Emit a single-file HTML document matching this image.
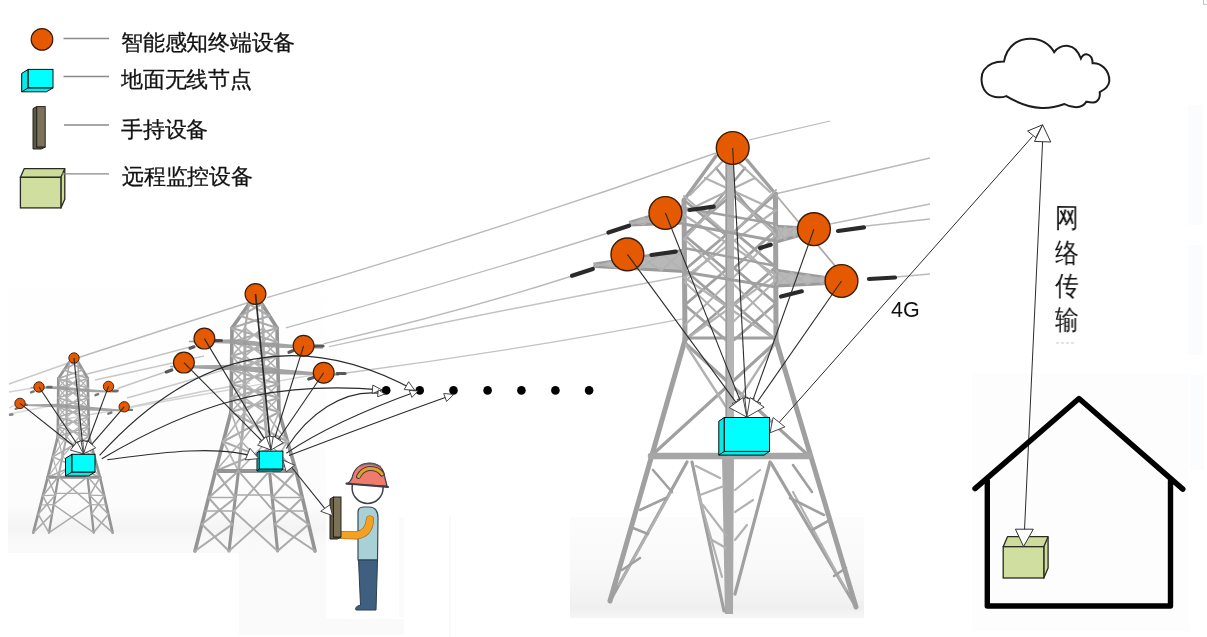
<!DOCTYPE html>
<html><head><meta charset="utf-8"><style>
html,body{margin:0;padding:0;background:#fff;width:1207px;height:637px;overflow:hidden}
body{position:relative;font-family:"Liberation Sans",sans-serif;color:#111}
.t{position:absolute;white-space:nowrap;line-height:1;will-change:transform}
.lg{font-size:22px;letter-spacing:-0.25px;-webkit-text-stroke:0.3px #1a1a1a}
.v{font-size:25px;width:26px;line-height:30.65px;text-align:center;transform:scale(0.97,1.1);transform-origin:0 0}
</style></head><body>
<svg width="1207" height="637" viewBox="0 0 1207 637" style="position:absolute;left:0;top:0"><defs><linearGradient id="g1" x1="0" y1="250" x2="0" y2="553" gradientUnits="userSpaceOnUse"><stop offset="0" stop-color="#fff"/><stop offset="0.84" stop-color="#fcfcfc"/><stop offset="0.92" stop-color="#f4f4f4"/><stop offset="0.96" stop-color="#f9f9f9"/><stop offset="1" stop-color="#fafafa"/></linearGradient><linearGradient id="g3" x1="0" y1="517" x2="0" y2="618" gradientUnits="userSpaceOnUse"><stop offset="0" stop-color="#fcfcfc"/><stop offset="0.5" stop-color="#f9f9f9"/><stop offset="0.82" stop-color="#f2f2f2"/><stop offset="0.9" stop-color="#efefef"/><stop offset="1" stop-color="#f6f6f6"/></linearGradient><filter id="bl" x="-5%" y="-5%" width="110%" height="110%"><feGaussianBlur stdDeviation="0.5"/></filter><filter id="bl2" x="-5%" y="-5%" width="110%" height="110%"><feGaussianBlur stdDeviation="0.6"/></filter></defs><rect x="8" y="250" width="318" height="303" fill="url(#g1)"/><rect x="239" y="553" width="165" height="82" fill="#fafafa"/><rect x="326" y="458" width="78" height="161" fill="#ffffff"/><rect x="570" y="517" width="294" height="101" fill="url(#g3)"/><rect x="399" y="517" width="5" height="100" fill="#fbfbfb"/><rect x="449" y="517" width="1.5" height="120" fill="#f8f8f8"/><rect x="972" y="373" width="217" height="258" fill="#fdfdfd"/><path d="M1203.5,0 L1203.5,4.4 L1207,4.4" fill="none" stroke="#bdbdbd" stroke-width="0.9"/><rect x="1188" y="105" width="15" height="120" fill="#fafcfd"/><rect x="1188" y="245" width="15" height="110" fill="#fbfcfd"/><rect x="1190" y="375" width="14" height="95" fill="#fbfcfd"/><g fill="#e4e4e4"><rect x="1056" y="342" width="3" height="2"/><rect x="1061" y="342" width="3" height="2"/><rect x="1066" y="342" width="3" height="2"/><rect x="1071" y="342" width="3" height="2"/></g><g><path d="M9.0,384.0 L74.0,361.0" fill="none" stroke="#cacaca" stroke-width="1.35"/><path d="M9.0,392.0 L39.0,387.0" fill="none" stroke="#d4d4d4" stroke-width="1.35"/><path d="M9.0,408.0 L20.0,403.0" fill="none" stroke="#d4d4d4" stroke-width="1.35"/><path d="M9.0,414.0 L60.0,404.0" fill="none" stroke="#dadada" stroke-width="1.35"/><path d="M74.0,359.0 L160.0,331.0 L250.0,302.0" fill="none" stroke="#bababa" stroke-width="1.35"/><path d="M60.0,381.0 L130.0,363.0 L190.0,347.0" fill="none" stroke="#c4c4c4" stroke-width="1.35"/><path d="M95.0,380.0 L150.0,368.0 L204.0,356.0" fill="none" stroke="#c8c8c8" stroke-width="1.35"/><path d="M117.7,388.5 L166.6,371.5" fill="none" stroke="#c4c4c4" stroke-width="1.35"/><path d="M127.0,398.0 L180.0,383.0 L230.6,367.8" fill="none" stroke="#c8c8c8" stroke-width="1.35"/><path d="M130.0,407.0 L200.0,392.0 L250.0,383.0" fill="none" stroke="#cccccc" stroke-width="1.35"/><path d="M60.0,420.0 L200.0,395.0 L324.0,373.0" fill="none" stroke="#d2d2d2" stroke-width="1.35"/><path d="M267,297.7 Q490,233 716,153" fill="none" stroke="#bababa" stroke-width="1.35"/><path d="M285.8,327.8 Q460,280 608,233" fill="none" stroke="#bababa" stroke-width="1.35"/><path d="M323.4,343.8 Q460,312 572,276" fill="none" stroke="#bababa" stroke-width="1.35"/><path d="M329,346.6 Q500,310 684,276" fill="none" stroke="#c2c2c2" stroke-width="1.35"/><path d="M346,373 Q520,350 684,318.6" fill="none" stroke="#c2c2c2" stroke-width="1.35"/><path d="M749.0,140.0 L830.0,121.0" fill="none" stroke="#bababa" stroke-width="1.2"/><path d="M775.0,194.0 L930.0,158.0" fill="none" stroke="#bababa" stroke-width="1.35"/><path d="M830.0,224.0 L930.0,204.0" fill="none" stroke="#bababa" stroke-width="1.35"/><path d="M866.0,226.0 L930.0,219.0" fill="none" stroke="#bababa" stroke-width="1.35"/><path d="M896.0,277.0 L930.0,274.0" fill="none" stroke="#bababa" stroke-width="1.35"/></g><g><line x1="69.5" y1="361.8" x2="58.4" y2="378.4" stroke="#949494" stroke-width="2.7" stroke-linecap="round"/><line x1="77.9" y1="361.8" x2="87.7" y2="378.4" stroke="#949494" stroke-width="2.7" stroke-linecap="round"/><line x1="69.5" y1="361.8" x2="66.9" y2="378.4" stroke="#ababab" stroke-width="1.5750000000000002" stroke-linecap="round"/><line x1="77.9" y1="361.8" x2="78.6" y2="378.4" stroke="#ababab" stroke-width="1.5750000000000002" stroke-linecap="round"/><line x1="69.5" y1="361.8" x2="77.9" y2="361.8" stroke="#ababab" stroke-width="1.5750000000000002" stroke-linecap="round"/><line x1="69.5" y1="361.8" x2="82.8" y2="370.1" stroke="#ababab" stroke-width="1.5750000000000002" stroke-linecap="round"/><line x1="77.9" y1="361.8" x2="63.9" y2="370.1" stroke="#ababab" stroke-width="1.5750000000000002" stroke-linecap="round"/><line x1="63.9" y1="370.1" x2="87.7" y2="378.4" stroke="#ababab" stroke-width="1.5750000000000002" stroke-linecap="round"/><line x1="82.8" y1="370.1" x2="58.4" y2="378.4" stroke="#ababab" stroke-width="1.5750000000000002" stroke-linecap="round"/><line x1="58.4" y1="378.4" x2="57.8" y2="436.5" stroke="#949494" stroke-width="2.7" stroke-linecap="round"/><line x1="57.8" y1="436.5" x2="47.7" y2="477.3" stroke="#949494" stroke-width="2.7" stroke-linecap="round"/><line x1="87.7" y1="378.4" x2="89.0" y2="436.5" stroke="#949494" stroke-width="2.7" stroke-linecap="round"/><line x1="89.0" y1="436.5" x2="100.0" y2="477.3" stroke="#949494" stroke-width="2.7" stroke-linecap="round"/><line x1="66.9" y1="378.4" x2="66.5" y2="436.5" stroke="#ababab" stroke-width="2.16" stroke-linecap="round"/><line x1="66.5" y1="436.5" x2="58.4" y2="476.6" stroke="#ababab" stroke-width="2.16" stroke-linecap="round"/><line x1="78.6" y1="378.4" x2="79.5" y2="436.5" stroke="#ababab" stroke-width="2.16" stroke-linecap="round"/><line x1="79.5" y1="436.5" x2="87.5" y2="476.6" stroke="#ababab" stroke-width="2.16" stroke-linecap="round"/><line x1="47.7" y1="477.3" x2="33.3" y2="532.6" stroke="#949494" stroke-width="2.7" stroke-linecap="round"/><line x1="100.0" y1="477.3" x2="112.6" y2="532.6" stroke="#949494" stroke-width="2.7" stroke-linecap="round"/><line x1="58.4" y1="476.6" x2="49.0" y2="532.6" stroke="#949494" stroke-width="2.295" stroke-linecap="round"/><line x1="87.5" y1="476.6" x2="93.7" y2="532.6" stroke="#949494" stroke-width="2.295" stroke-linecap="round"/><line x1="58.4" y1="378.4" x2="87.9" y2="388.1" stroke="#ababab" stroke-width="1.5750000000000002" stroke-linecap="round"/><line x1="87.7" y1="378.4" x2="58.3" y2="388.1" stroke="#ababab" stroke-width="1.5750000000000002" stroke-linecap="round"/><line x1="58.3" y1="388.1" x2="88.1" y2="397.8" stroke="#ababab" stroke-width="1.5750000000000002" stroke-linecap="round"/><line x1="87.9" y1="388.1" x2="58.2" y2="397.8" stroke="#ababab" stroke-width="1.5750000000000002" stroke-linecap="round"/><line x1="58.2" y1="397.8" x2="88.3" y2="407.4" stroke="#ababab" stroke-width="1.5750000000000002" stroke-linecap="round"/><line x1="88.1" y1="397.8" x2="58.1" y2="407.4" stroke="#ababab" stroke-width="1.5750000000000002" stroke-linecap="round"/><line x1="58.1" y1="407.4" x2="88.5" y2="417.1" stroke="#ababab" stroke-width="1.5750000000000002" stroke-linecap="round"/><line x1="88.3" y1="407.4" x2="58.0" y2="417.1" stroke="#ababab" stroke-width="1.5750000000000002" stroke-linecap="round"/><line x1="58.0" y1="417.1" x2="88.8" y2="426.8" stroke="#ababab" stroke-width="1.5750000000000002" stroke-linecap="round"/><line x1="88.5" y1="417.1" x2="57.9" y2="426.8" stroke="#ababab" stroke-width="1.5750000000000002" stroke-linecap="round"/><line x1="57.9" y1="426.8" x2="89.0" y2="436.5" stroke="#ababab" stroke-width="1.5750000000000002" stroke-linecap="round"/><line x1="88.8" y1="426.8" x2="57.8" y2="436.5" stroke="#ababab" stroke-width="1.5750000000000002" stroke-linecap="round"/><line x1="66.9" y1="378.4" x2="78.7" y2="388.1" stroke="#b4b4b4" stroke-width="1.2600000000000002" stroke-linecap="round"/><line x1="78.6" y1="378.4" x2="66.8" y2="388.1" stroke="#b4b4b4" stroke-width="1.2600000000000002" stroke-linecap="round"/><line x1="66.8" y1="388.1" x2="78.9" y2="397.8" stroke="#b4b4b4" stroke-width="1.2600000000000002" stroke-linecap="round"/><line x1="78.7" y1="388.1" x2="66.8" y2="397.8" stroke="#b4b4b4" stroke-width="1.2600000000000002" stroke-linecap="round"/><line x1="66.8" y1="397.8" x2="79.1" y2="407.4" stroke="#b4b4b4" stroke-width="1.2600000000000002" stroke-linecap="round"/><line x1="78.9" y1="397.8" x2="66.7" y2="407.4" stroke="#b4b4b4" stroke-width="1.2600000000000002" stroke-linecap="round"/><line x1="66.7" y1="407.4" x2="79.2" y2="417.1" stroke="#b4b4b4" stroke-width="1.2600000000000002" stroke-linecap="round"/><line x1="79.1" y1="407.4" x2="66.7" y2="417.1" stroke="#b4b4b4" stroke-width="1.2600000000000002" stroke-linecap="round"/><line x1="66.7" y1="417.1" x2="79.4" y2="426.8" stroke="#b4b4b4" stroke-width="1.2600000000000002" stroke-linecap="round"/><line x1="79.2" y1="417.1" x2="66.6" y2="426.8" stroke="#b4b4b4" stroke-width="1.2600000000000002" stroke-linecap="round"/><line x1="66.6" y1="426.8" x2="79.5" y2="436.5" stroke="#b4b4b4" stroke-width="1.2600000000000002" stroke-linecap="round"/><line x1="79.4" y1="426.8" x2="66.5" y2="436.5" stroke="#b4b4b4" stroke-width="1.2600000000000002" stroke-linecap="round"/><line x1="58.4" y1="378.4" x2="66.8" y2="388.1" stroke="#b0b0b0" stroke-width="1.2600000000000002" stroke-linecap="round"/><line x1="66.9" y1="378.4" x2="58.3" y2="388.1" stroke="#b0b0b0" stroke-width="1.2600000000000002" stroke-linecap="round"/><line x1="58.3" y1="388.1" x2="66.8" y2="397.8" stroke="#b0b0b0" stroke-width="1.2600000000000002" stroke-linecap="round"/><line x1="66.8" y1="388.1" x2="58.2" y2="397.8" stroke="#b0b0b0" stroke-width="1.2600000000000002" stroke-linecap="round"/><line x1="58.2" y1="397.8" x2="66.7" y2="407.4" stroke="#b0b0b0" stroke-width="1.2600000000000002" stroke-linecap="round"/><line x1="66.8" y1="397.8" x2="58.1" y2="407.4" stroke="#b0b0b0" stroke-width="1.2600000000000002" stroke-linecap="round"/><line x1="58.1" y1="407.4" x2="66.7" y2="417.1" stroke="#b0b0b0" stroke-width="1.2600000000000002" stroke-linecap="round"/><line x1="66.7" y1="407.4" x2="58.0" y2="417.1" stroke="#b0b0b0" stroke-width="1.2600000000000002" stroke-linecap="round"/><line x1="58.0" y1="417.1" x2="66.6" y2="426.8" stroke="#b0b0b0" stroke-width="1.2600000000000002" stroke-linecap="round"/><line x1="66.7" y1="417.1" x2="57.9" y2="426.8" stroke="#b0b0b0" stroke-width="1.2600000000000002" stroke-linecap="round"/><line x1="57.9" y1="426.8" x2="66.5" y2="436.5" stroke="#b0b0b0" stroke-width="1.2600000000000002" stroke-linecap="round"/><line x1="66.6" y1="426.8" x2="57.8" y2="436.5" stroke="#b0b0b0" stroke-width="1.2600000000000002" stroke-linecap="round"/><line x1="78.6" y1="378.4" x2="87.9" y2="388.1" stroke="#b0b0b0" stroke-width="1.2600000000000002" stroke-linecap="round"/><line x1="87.7" y1="378.4" x2="78.7" y2="388.1" stroke="#b0b0b0" stroke-width="1.2600000000000002" stroke-linecap="round"/><line x1="78.7" y1="388.1" x2="88.1" y2="397.8" stroke="#b0b0b0" stroke-width="1.2600000000000002" stroke-linecap="round"/><line x1="87.9" y1="388.1" x2="78.9" y2="397.8" stroke="#b0b0b0" stroke-width="1.2600000000000002" stroke-linecap="round"/><line x1="78.9" y1="397.8" x2="88.3" y2="407.4" stroke="#b0b0b0" stroke-width="1.2600000000000002" stroke-linecap="round"/><line x1="88.1" y1="397.8" x2="79.1" y2="407.4" stroke="#b0b0b0" stroke-width="1.2600000000000002" stroke-linecap="round"/><line x1="79.1" y1="407.4" x2="88.5" y2="417.1" stroke="#b0b0b0" stroke-width="1.2600000000000002" stroke-linecap="round"/><line x1="88.3" y1="407.4" x2="79.2" y2="417.1" stroke="#b0b0b0" stroke-width="1.2600000000000002" stroke-linecap="round"/><line x1="79.2" y1="417.1" x2="88.8" y2="426.8" stroke="#b0b0b0" stroke-width="1.2600000000000002" stroke-linecap="round"/><line x1="88.5" y1="417.1" x2="79.4" y2="426.8" stroke="#b0b0b0" stroke-width="1.2600000000000002" stroke-linecap="round"/><line x1="79.4" y1="426.8" x2="89.0" y2="436.5" stroke="#b0b0b0" stroke-width="1.2600000000000002" stroke-linecap="round"/><line x1="88.8" y1="426.8" x2="79.5" y2="436.5" stroke="#b0b0b0" stroke-width="1.2600000000000002" stroke-linecap="round"/><line x1="57.8" y1="436.5" x2="94.5" y2="456.9" stroke="#ababab" stroke-width="1.5750000000000002" stroke-linecap="round"/><line x1="89.0" y1="436.5" x2="52.7" y2="456.9" stroke="#ababab" stroke-width="1.5750000000000002" stroke-linecap="round"/><line x1="52.7" y1="456.9" x2="100.0" y2="477.3" stroke="#ababab" stroke-width="1.5750000000000002" stroke-linecap="round"/><line x1="94.5" y1="456.9" x2="47.7" y2="477.3" stroke="#ababab" stroke-width="1.5750000000000002" stroke-linecap="round"/><line x1="66.5" y1="436.5" x2="83.5" y2="456.6" stroke="#b4b4b4" stroke-width="1.2600000000000002" stroke-linecap="round"/><line x1="79.5" y1="436.5" x2="62.5" y2="456.6" stroke="#b4b4b4" stroke-width="1.2600000000000002" stroke-linecap="round"/><line x1="62.5" y1="456.6" x2="87.5" y2="476.6" stroke="#b4b4b4" stroke-width="1.2600000000000002" stroke-linecap="round"/><line x1="83.5" y1="456.6" x2="58.4" y2="476.6" stroke="#b4b4b4" stroke-width="1.2600000000000002" stroke-linecap="round"/><line x1="57.8" y1="436.5" x2="62.5" y2="456.6" stroke="#b4b4b4" stroke-width="1.2600000000000002" stroke-linecap="round"/><line x1="66.5" y1="436.5" x2="52.7" y2="456.9" stroke="#b4b4b4" stroke-width="1.2600000000000002" stroke-linecap="round"/><line x1="52.7" y1="456.9" x2="58.4" y2="476.6" stroke="#b4b4b4" stroke-width="1.2600000000000002" stroke-linecap="round"/><line x1="62.5" y1="456.6" x2="47.7" y2="477.3" stroke="#b4b4b4" stroke-width="1.2600000000000002" stroke-linecap="round"/><line x1="79.5" y1="436.5" x2="94.5" y2="456.9" stroke="#b4b4b4" stroke-width="1.2600000000000002" stroke-linecap="round"/><line x1="89.0" y1="436.5" x2="83.5" y2="456.6" stroke="#b4b4b4" stroke-width="1.2600000000000002" stroke-linecap="round"/><line x1="83.5" y1="456.6" x2="100.0" y2="477.3" stroke="#b4b4b4" stroke-width="1.2600000000000002" stroke-linecap="round"/><line x1="94.5" y1="456.9" x2="87.5" y2="476.6" stroke="#b4b4b4" stroke-width="1.2600000000000002" stroke-linecap="round"/><line x1="47.7" y1="477.3" x2="100.0" y2="477.3" stroke="#949494" stroke-width="2.9700000000000006" stroke-linecap="round"/><line x1="47.7" y1="477.3" x2="55.3" y2="495.3" stroke="#ababab" stroke-width="1.5750000000000002" stroke-linecap="round"/><line x1="58.4" y1="476.6" x2="42.9" y2="495.8" stroke="#ababab" stroke-width="1.5750000000000002" stroke-linecap="round"/><line x1="42.9" y1="495.8" x2="52.1" y2="513.9" stroke="#ababab" stroke-width="1.5750000000000002" stroke-linecap="round"/><line x1="55.3" y1="495.3" x2="38.1" y2="514.2" stroke="#ababab" stroke-width="1.5750000000000002" stroke-linecap="round"/><line x1="38.1" y1="514.2" x2="49.0" y2="532.6" stroke="#ababab" stroke-width="1.5750000000000002" stroke-linecap="round"/><line x1="52.1" y1="513.9" x2="33.3" y2="532.6" stroke="#ababab" stroke-width="1.5750000000000002" stroke-linecap="round"/><line x1="87.5" y1="476.6" x2="104.2" y2="495.8" stroke="#ababab" stroke-width="1.5750000000000002" stroke-linecap="round"/><line x1="100.0" y1="477.3" x2="89.6" y2="495.3" stroke="#ababab" stroke-width="1.5750000000000002" stroke-linecap="round"/><line x1="89.6" y1="495.3" x2="108.4" y2="514.2" stroke="#ababab" stroke-width="1.5750000000000002" stroke-linecap="round"/><line x1="104.2" y1="495.8" x2="91.6" y2="513.9" stroke="#ababab" stroke-width="1.5750000000000002" stroke-linecap="round"/><line x1="91.6" y1="513.9" x2="112.6" y2="532.6" stroke="#ababab" stroke-width="1.5750000000000002" stroke-linecap="round"/><line x1="108.4" y1="514.2" x2="93.7" y2="532.6" stroke="#ababab" stroke-width="1.5750000000000002" stroke-linecap="round"/><line x1="58.4" y1="476.6" x2="90.6" y2="504.6" stroke="#ababab" stroke-width="1.4175000000000002" stroke-linecap="round"/><line x1="87.5" y1="476.6" x2="53.7" y2="504.6" stroke="#ababab" stroke-width="1.4175000000000002" stroke-linecap="round"/><line x1="53.7" y1="504.6" x2="93.7" y2="532.6" stroke="#ababab" stroke-width="1.4175000000000002" stroke-linecap="round"/><line x1="90.6" y1="504.6" x2="49.0" y2="532.6" stroke="#ababab" stroke-width="1.4175000000000002" stroke-linecap="round"/><line x1="42.9" y1="495.6" x2="55.3" y2="495.1" stroke="#ababab" stroke-width="1.1025" stroke-linecap="round"/><line x1="89.5" y1="495.1" x2="104.2" y2="495.6" stroke="#ababab" stroke-width="1.1025" stroke-linecap="round"/><line x1="40.5" y1="505.0" x2="53.7" y2="504.6" stroke="#ababab" stroke-width="1.1025" stroke-linecap="round"/><line x1="90.6" y1="504.6" x2="106.3" y2="505.0" stroke="#ababab" stroke-width="1.1025" stroke-linecap="round"/><line x1="55.6" y1="493.4" x2="89.4" y2="493.4" stroke="#ababab" stroke-width="1.1025" stroke-linecap="round"/><path d="M30.5,387.1 L58.4,386.2 L87.7,388.9 L117.6,391.6 L117.6,392.8 L87.7,392.0 L58.4,389.3 L30.5,388.3 Z" fill="#9a9a9a" fill-opacity="0.9"/><path d="M18.1,404.4 L58.4,403.8 L87.7,406.6 L128.0,410.3 L128.0,411.5 L87.7,410.4 L58.4,407.6 L18.1,405.6 Z" fill="#9a9a9a" fill-opacity="0.9"/><line x1="249.0" y1="304.0" x2="232.0" y2="328.0" stroke="#949494" stroke-width="3.6" stroke-linecap="round"/><line x1="262.0" y1="304.0" x2="277.0" y2="328.0" stroke="#949494" stroke-width="3.6" stroke-linecap="round"/><line x1="249.0" y1="304.0" x2="245.0" y2="328.0" stroke="#ababab" stroke-width="2.1" stroke-linecap="round"/><line x1="262.0" y1="304.0" x2="263.0" y2="328.0" stroke="#ababab" stroke-width="2.1" stroke-linecap="round"/><line x1="249.0" y1="304.0" x2="262.0" y2="304.0" stroke="#ababab" stroke-width="2.1" stroke-linecap="round"/><line x1="249.0" y1="304.0" x2="269.5" y2="316.0" stroke="#ababab" stroke-width="2.1" stroke-linecap="round"/><line x1="262.0" y1="304.0" x2="240.5" y2="316.0" stroke="#ababab" stroke-width="2.1" stroke-linecap="round"/><line x1="240.5" y1="316.0" x2="277.0" y2="328.0" stroke="#ababab" stroke-width="2.1" stroke-linecap="round"/><line x1="269.5" y1="316.0" x2="232.0" y2="328.0" stroke="#ababab" stroke-width="2.1" stroke-linecap="round"/><line x1="232.0" y1="328.0" x2="231.0" y2="412.0" stroke="#949494" stroke-width="3.6" stroke-linecap="round"/><line x1="231.0" y1="412.0" x2="215.5" y2="471.0" stroke="#949494" stroke-width="3.6" stroke-linecap="round"/><line x1="277.0" y1="328.0" x2="279.0" y2="412.0" stroke="#949494" stroke-width="3.6" stroke-linecap="round"/><line x1="279.0" y1="412.0" x2="296.0" y2="471.0" stroke="#949494" stroke-width="3.6" stroke-linecap="round"/><line x1="245.0" y1="328.0" x2="244.5" y2="412.0" stroke="#ababab" stroke-width="2.8800000000000003" stroke-linecap="round"/><line x1="244.5" y1="412.0" x2="238.5" y2="471.0" stroke="#ababab" stroke-width="2.8800000000000003" stroke-linecap="round"/><line x1="263.0" y1="328.0" x2="264.5" y2="412.0" stroke="#ababab" stroke-width="2.8800000000000003" stroke-linecap="round"/><line x1="264.5" y1="412.0" x2="269.5" y2="471.0" stroke="#ababab" stroke-width="2.8800000000000003" stroke-linecap="round"/><line x1="215.5" y1="471.0" x2="195.0" y2="551.0" stroke="#949494" stroke-width="3.6" stroke-linecap="round"/><line x1="296.0" y1="471.0" x2="315.0" y2="551.0" stroke="#949494" stroke-width="3.6" stroke-linecap="round"/><line x1="238.5" y1="471.0" x2="229.0" y2="551.0" stroke="#949494" stroke-width="3.06" stroke-linecap="round"/><line x1="269.5" y1="471.0" x2="277.6" y2="551.0" stroke="#949494" stroke-width="3.06" stroke-linecap="round"/><line x1="232.0" y1="328.0" x2="277.3" y2="342.0" stroke="#ababab" stroke-width="2.1" stroke-linecap="round"/><line x1="277.0" y1="328.0" x2="231.8" y2="342.0" stroke="#ababab" stroke-width="2.1" stroke-linecap="round"/><line x1="231.8" y1="342.0" x2="277.7" y2="356.0" stroke="#ababab" stroke-width="2.1" stroke-linecap="round"/><line x1="277.3" y1="342.0" x2="231.7" y2="356.0" stroke="#ababab" stroke-width="2.1" stroke-linecap="round"/><line x1="231.7" y1="356.0" x2="278.0" y2="370.0" stroke="#ababab" stroke-width="2.1" stroke-linecap="round"/><line x1="277.7" y1="356.0" x2="231.5" y2="370.0" stroke="#ababab" stroke-width="2.1" stroke-linecap="round"/><line x1="231.5" y1="370.0" x2="278.3" y2="384.0" stroke="#ababab" stroke-width="2.1" stroke-linecap="round"/><line x1="278.0" y1="370.0" x2="231.3" y2="384.0" stroke="#ababab" stroke-width="2.1" stroke-linecap="round"/><line x1="231.3" y1="384.0" x2="278.7" y2="398.0" stroke="#ababab" stroke-width="2.1" stroke-linecap="round"/><line x1="278.3" y1="384.0" x2="231.2" y2="398.0" stroke="#ababab" stroke-width="2.1" stroke-linecap="round"/><line x1="231.2" y1="398.0" x2="279.0" y2="412.0" stroke="#ababab" stroke-width="2.1" stroke-linecap="round"/><line x1="278.7" y1="398.0" x2="231.0" y2="412.0" stroke="#ababab" stroke-width="2.1" stroke-linecap="round"/><line x1="245.0" y1="328.0" x2="263.2" y2="342.0" stroke="#b4b4b4" stroke-width="1.6800000000000002" stroke-linecap="round"/><line x1="263.0" y1="328.0" x2="244.9" y2="342.0" stroke="#b4b4b4" stroke-width="1.6800000000000002" stroke-linecap="round"/><line x1="244.9" y1="342.0" x2="263.5" y2="356.0" stroke="#b4b4b4" stroke-width="1.6800000000000002" stroke-linecap="round"/><line x1="263.2" y1="342.0" x2="244.8" y2="356.0" stroke="#b4b4b4" stroke-width="1.6800000000000002" stroke-linecap="round"/><line x1="244.8" y1="356.0" x2="263.8" y2="370.0" stroke="#b4b4b4" stroke-width="1.6800000000000002" stroke-linecap="round"/><line x1="263.5" y1="356.0" x2="244.8" y2="370.0" stroke="#b4b4b4" stroke-width="1.6800000000000002" stroke-linecap="round"/><line x1="244.8" y1="370.0" x2="264.0" y2="384.0" stroke="#b4b4b4" stroke-width="1.6800000000000002" stroke-linecap="round"/><line x1="263.8" y1="370.0" x2="244.7" y2="384.0" stroke="#b4b4b4" stroke-width="1.6800000000000002" stroke-linecap="round"/><line x1="244.7" y1="384.0" x2="264.2" y2="398.0" stroke="#b4b4b4" stroke-width="1.6800000000000002" stroke-linecap="round"/><line x1="264.0" y1="384.0" x2="244.6" y2="398.0" stroke="#b4b4b4" stroke-width="1.6800000000000002" stroke-linecap="round"/><line x1="244.6" y1="398.0" x2="264.5" y2="412.0" stroke="#b4b4b4" stroke-width="1.6800000000000002" stroke-linecap="round"/><line x1="264.2" y1="398.0" x2="244.5" y2="412.0" stroke="#b4b4b4" stroke-width="1.6800000000000002" stroke-linecap="round"/><line x1="232.0" y1="328.0" x2="244.9" y2="342.0" stroke="#b0b0b0" stroke-width="1.6800000000000002" stroke-linecap="round"/><line x1="245.0" y1="328.0" x2="231.8" y2="342.0" stroke="#b0b0b0" stroke-width="1.6800000000000002" stroke-linecap="round"/><line x1="231.8" y1="342.0" x2="244.8" y2="356.0" stroke="#b0b0b0" stroke-width="1.6800000000000002" stroke-linecap="round"/><line x1="244.9" y1="342.0" x2="231.7" y2="356.0" stroke="#b0b0b0" stroke-width="1.6800000000000002" stroke-linecap="round"/><line x1="231.7" y1="356.0" x2="244.8" y2="370.0" stroke="#b0b0b0" stroke-width="1.6800000000000002" stroke-linecap="round"/><line x1="244.8" y1="356.0" x2="231.5" y2="370.0" stroke="#b0b0b0" stroke-width="1.6800000000000002" stroke-linecap="round"/><line x1="231.5" y1="370.0" x2="244.7" y2="384.0" stroke="#b0b0b0" stroke-width="1.6800000000000002" stroke-linecap="round"/><line x1="244.8" y1="370.0" x2="231.3" y2="384.0" stroke="#b0b0b0" stroke-width="1.6800000000000002" stroke-linecap="round"/><line x1="231.3" y1="384.0" x2="244.6" y2="398.0" stroke="#b0b0b0" stroke-width="1.6800000000000002" stroke-linecap="round"/><line x1="244.7" y1="384.0" x2="231.2" y2="398.0" stroke="#b0b0b0" stroke-width="1.6800000000000002" stroke-linecap="round"/><line x1="231.2" y1="398.0" x2="244.5" y2="412.0" stroke="#b0b0b0" stroke-width="1.6800000000000002" stroke-linecap="round"/><line x1="244.6" y1="398.0" x2="231.0" y2="412.0" stroke="#b0b0b0" stroke-width="1.6800000000000002" stroke-linecap="round"/><line x1="263.0" y1="328.0" x2="277.3" y2="342.0" stroke="#b0b0b0" stroke-width="1.6800000000000002" stroke-linecap="round"/><line x1="277.0" y1="328.0" x2="263.2" y2="342.0" stroke="#b0b0b0" stroke-width="1.6800000000000002" stroke-linecap="round"/><line x1="263.2" y1="342.0" x2="277.7" y2="356.0" stroke="#b0b0b0" stroke-width="1.6800000000000002" stroke-linecap="round"/><line x1="277.3" y1="342.0" x2="263.5" y2="356.0" stroke="#b0b0b0" stroke-width="1.6800000000000002" stroke-linecap="round"/><line x1="263.5" y1="356.0" x2="278.0" y2="370.0" stroke="#b0b0b0" stroke-width="1.6800000000000002" stroke-linecap="round"/><line x1="277.7" y1="356.0" x2="263.8" y2="370.0" stroke="#b0b0b0" stroke-width="1.6800000000000002" stroke-linecap="round"/><line x1="263.8" y1="370.0" x2="278.3" y2="384.0" stroke="#b0b0b0" stroke-width="1.6800000000000002" stroke-linecap="round"/><line x1="278.0" y1="370.0" x2="264.0" y2="384.0" stroke="#b0b0b0" stroke-width="1.6800000000000002" stroke-linecap="round"/><line x1="264.0" y1="384.0" x2="278.7" y2="398.0" stroke="#b0b0b0" stroke-width="1.6800000000000002" stroke-linecap="round"/><line x1="278.3" y1="384.0" x2="264.2" y2="398.0" stroke="#b0b0b0" stroke-width="1.6800000000000002" stroke-linecap="round"/><line x1="264.2" y1="398.0" x2="279.0" y2="412.0" stroke="#b0b0b0" stroke-width="1.6800000000000002" stroke-linecap="round"/><line x1="278.7" y1="398.0" x2="264.5" y2="412.0" stroke="#b0b0b0" stroke-width="1.6800000000000002" stroke-linecap="round"/><line x1="231.0" y1="412.0" x2="287.5" y2="441.5" stroke="#ababab" stroke-width="2.1" stroke-linecap="round"/><line x1="279.0" y1="412.0" x2="223.2" y2="441.5" stroke="#ababab" stroke-width="2.1" stroke-linecap="round"/><line x1="223.2" y1="441.5" x2="296.0" y2="471.0" stroke="#ababab" stroke-width="2.1" stroke-linecap="round"/><line x1="287.5" y1="441.5" x2="215.5" y2="471.0" stroke="#ababab" stroke-width="2.1" stroke-linecap="round"/><line x1="244.5" y1="412.0" x2="267.0" y2="441.5" stroke="#b4b4b4" stroke-width="1.6800000000000002" stroke-linecap="round"/><line x1="264.5" y1="412.0" x2="241.5" y2="441.5" stroke="#b4b4b4" stroke-width="1.6800000000000002" stroke-linecap="round"/><line x1="241.5" y1="441.5" x2="269.5" y2="471.0" stroke="#b4b4b4" stroke-width="1.6800000000000002" stroke-linecap="round"/><line x1="267.0" y1="441.5" x2="238.5" y2="471.0" stroke="#b4b4b4" stroke-width="1.6800000000000002" stroke-linecap="round"/><line x1="231.0" y1="412.0" x2="241.5" y2="441.5" stroke="#b4b4b4" stroke-width="1.6800000000000002" stroke-linecap="round"/><line x1="244.5" y1="412.0" x2="223.2" y2="441.5" stroke="#b4b4b4" stroke-width="1.6800000000000002" stroke-linecap="round"/><line x1="223.2" y1="441.5" x2="238.5" y2="471.0" stroke="#b4b4b4" stroke-width="1.6800000000000002" stroke-linecap="round"/><line x1="241.5" y1="441.5" x2="215.5" y2="471.0" stroke="#b4b4b4" stroke-width="1.6800000000000002" stroke-linecap="round"/><line x1="264.5" y1="412.0" x2="287.5" y2="441.5" stroke="#b4b4b4" stroke-width="1.6800000000000002" stroke-linecap="round"/><line x1="279.0" y1="412.0" x2="267.0" y2="441.5" stroke="#b4b4b4" stroke-width="1.6800000000000002" stroke-linecap="round"/><line x1="267.0" y1="441.5" x2="296.0" y2="471.0" stroke="#b4b4b4" stroke-width="1.6800000000000002" stroke-linecap="round"/><line x1="287.5" y1="441.5" x2="269.5" y2="471.0" stroke="#b4b4b4" stroke-width="1.6800000000000002" stroke-linecap="round"/><line x1="215.5" y1="471.0" x2="296.0" y2="471.0" stroke="#949494" stroke-width="3.9600000000000004" stroke-linecap="round"/><line x1="215.5" y1="471.0" x2="235.3" y2="497.7" stroke="#ababab" stroke-width="2.1" stroke-linecap="round"/><line x1="238.5" y1="471.0" x2="208.7" y2="497.7" stroke="#ababab" stroke-width="2.1" stroke-linecap="round"/><line x1="208.7" y1="497.7" x2="232.2" y2="524.3" stroke="#ababab" stroke-width="2.1" stroke-linecap="round"/><line x1="235.3" y1="497.7" x2="201.8" y2="524.3" stroke="#ababab" stroke-width="2.1" stroke-linecap="round"/><line x1="201.8" y1="524.3" x2="229.0" y2="551.0" stroke="#ababab" stroke-width="2.1" stroke-linecap="round"/><line x1="232.2" y1="524.3" x2="195.0" y2="551.0" stroke="#ababab" stroke-width="2.1" stroke-linecap="round"/><line x1="269.5" y1="471.0" x2="302.3" y2="497.7" stroke="#ababab" stroke-width="2.1" stroke-linecap="round"/><line x1="296.0" y1="471.0" x2="272.2" y2="497.7" stroke="#ababab" stroke-width="2.1" stroke-linecap="round"/><line x1="272.2" y1="497.7" x2="308.7" y2="524.3" stroke="#ababab" stroke-width="2.1" stroke-linecap="round"/><line x1="302.3" y1="497.7" x2="274.9" y2="524.3" stroke="#ababab" stroke-width="2.1" stroke-linecap="round"/><line x1="274.9" y1="524.3" x2="315.0" y2="551.0" stroke="#ababab" stroke-width="2.1" stroke-linecap="round"/><line x1="308.7" y1="524.3" x2="277.6" y2="551.0" stroke="#ababab" stroke-width="2.1" stroke-linecap="round"/><line x1="238.5" y1="471.0" x2="273.6" y2="511.0" stroke="#ababab" stroke-width="1.8900000000000001" stroke-linecap="round"/><line x1="269.5" y1="471.0" x2="233.8" y2="511.0" stroke="#ababab" stroke-width="1.8900000000000001" stroke-linecap="round"/><line x1="233.8" y1="511.0" x2="277.6" y2="551.0" stroke="#ababab" stroke-width="1.8900000000000001" stroke-linecap="round"/><line x1="273.6" y1="511.0" x2="229.0" y2="551.0" stroke="#ababab" stroke-width="1.8900000000000001" stroke-linecap="round"/><line x1="208.7" y1="497.4" x2="235.4" y2="497.4" stroke="#ababab" stroke-width="1.47" stroke-linecap="round"/><line x1="272.2" y1="497.4" x2="302.3" y2="497.4" stroke="#ababab" stroke-width="1.47" stroke-linecap="round"/><line x1="205.2" y1="511.0" x2="233.8" y2="511.0" stroke="#ababab" stroke-width="1.47" stroke-linecap="round"/><line x1="273.6" y1="511.0" x2="305.5" y2="511.0" stroke="#ababab" stroke-width="1.47" stroke-linecap="round"/><line x1="235.7" y1="495.0" x2="271.9" y2="495.0" stroke="#ababab" stroke-width="1.47" stroke-linecap="round"/><path d="M189.0,340.7 L232.0,339.2 L277.0,343.2 L323.0,347.2 L323.0,348.8 L277.0,347.8 L232.0,343.8 L189.0,342.3 Z" fill="#9a9a9a" fill-opacity="0.9"/><path d="M170.0,365.7 L232.0,364.8 L277.0,368.8 L339.0,374.2 L339.0,375.8 L277.0,374.2 L232.0,370.2 L170.0,367.3 Z" fill="#9a9a9a" fill-opacity="0.9"/><line x1="716.0" y1="156.0" x2="684.0" y2="200.0" stroke="#a0a0a0" stroke-width="3.4" stroke-linecap="round"/><line x1="747.0" y1="160.0" x2="775.5" y2="194.0" stroke="#a0a0a0" stroke-width="3.4" stroke-linecap="round"/><line x1="716.0" y1="168.0" x2="760.0" y2="222.0" stroke="#a0a0a0" stroke-width="2.6" stroke-linecap="round"/><line x1="745.0" y1="168.0" x2="700.0" y2="222.0" stroke="#a0a0a0" stroke-width="2.6" stroke-linecap="round"/><line x1="705.0" y1="178.0" x2="775.0" y2="210.0" stroke="#b2b2b2" stroke-width="2.2" stroke-linecap="round"/><line x1="755.0" y1="178.0" x2="684.0" y2="212.0" stroke="#b2b2b2" stroke-width="2.2" stroke-linecap="round"/><line x1="722.0" y1="162.0" x2="690.0" y2="195.0" stroke="#b2b2b2" stroke-width="2.2" stroke-linecap="round"/><line x1="738.0" y1="162.0" x2="770.0" y2="192.0" stroke="#b2b2b2" stroke-width="2.2" stroke-linecap="round"/><line x1="684.0" y1="200.0" x2="685.0" y2="340.0" stroke="#a0a0a0" stroke-width="5" stroke-linecap="round"/><line x1="775.5" y1="194.0" x2="776.0" y2="340.0" stroke="#a0a0a0" stroke-width="5" stroke-linecap="round"/><line x1="684.0" y1="200.0" x2="726.0" y2="235.0" stroke="#a0a0a0" stroke-width="2.8" stroke-linecap="round"/><line x1="726.0" y1="200.0" x2="684.2" y2="235.0" stroke="#a0a0a0" stroke-width="2.8" stroke-linecap="round"/><line x1="684.2" y1="235.0" x2="726.0" y2="270.0" stroke="#a0a0a0" stroke-width="2.8" stroke-linecap="round"/><line x1="726.0" y1="235.0" x2="684.5" y2="270.0" stroke="#a0a0a0" stroke-width="2.8" stroke-linecap="round"/><line x1="684.5" y1="270.0" x2="726.0" y2="305.0" stroke="#a0a0a0" stroke-width="2.8" stroke-linecap="round"/><line x1="726.0" y1="270.0" x2="684.8" y2="305.0" stroke="#a0a0a0" stroke-width="2.8" stroke-linecap="round"/><line x1="684.8" y1="305.0" x2="726.0" y2="340.0" stroke="#a0a0a0" stroke-width="2.8" stroke-linecap="round"/><line x1="726.0" y1="305.0" x2="685.0" y2="340.0" stroke="#a0a0a0" stroke-width="2.8" stroke-linecap="round"/><line x1="734.0" y1="196.0" x2="775.6" y2="230.5" stroke="#a0a0a0" stroke-width="2.8" stroke-linecap="round"/><line x1="775.5" y1="194.0" x2="734.0" y2="232.0" stroke="#a0a0a0" stroke-width="2.8" stroke-linecap="round"/><line x1="734.0" y1="232.0" x2="775.8" y2="267.0" stroke="#a0a0a0" stroke-width="2.8" stroke-linecap="round"/><line x1="775.6" y1="230.5" x2="734.0" y2="268.0" stroke="#a0a0a0" stroke-width="2.8" stroke-linecap="round"/><line x1="734.0" y1="268.0" x2="775.9" y2="303.5" stroke="#a0a0a0" stroke-width="2.8" stroke-linecap="round"/><line x1="775.8" y1="267.0" x2="734.0" y2="304.0" stroke="#a0a0a0" stroke-width="2.8" stroke-linecap="round"/><line x1="734.0" y1="304.0" x2="776.0" y2="340.0" stroke="#a0a0a0" stroke-width="2.8" stroke-linecap="round"/><line x1="775.9" y1="303.5" x2="734.0" y2="340.0" stroke="#a0a0a0" stroke-width="2.8" stroke-linecap="round"/><line x1="684.0" y1="215.0" x2="776.0" y2="275.0" stroke="#b2b2b2" stroke-width="2.2" stroke-linecap="round"/><line x1="776.0" y1="210.0" x2="684.5" y2="277.5" stroke="#b2b2b2" stroke-width="2.2" stroke-linecap="round"/><line x1="684.5" y1="277.5" x2="776.0" y2="340.0" stroke="#b2b2b2" stroke-width="2.2" stroke-linecap="round"/><line x1="776.0" y1="275.0" x2="685.0" y2="340.0" stroke="#b2b2b2" stroke-width="2.2" stroke-linecap="round"/><line x1="684.0" y1="196.0" x2="730.0" y2="236.3" stroke="#b2b2b2" stroke-width="2.0" stroke-linecap="round"/><line x1="730.0" y1="192.0" x2="684.3" y2="239.0" stroke="#b2b2b2" stroke-width="2.0" stroke-linecap="round"/><line x1="684.3" y1="239.0" x2="730.0" y2="280.7" stroke="#b2b2b2" stroke-width="2.0" stroke-linecap="round"/><line x1="730.0" y1="236.3" x2="684.7" y2="282.0" stroke="#b2b2b2" stroke-width="2.0" stroke-linecap="round"/><line x1="684.7" y1="282.0" x2="730.0" y2="325.0" stroke="#b2b2b2" stroke-width="2.0" stroke-linecap="round"/><line x1="730.0" y1="280.7" x2="685.0" y2="325.0" stroke="#b2b2b2" stroke-width="2.0" stroke-linecap="round"/><line x1="730.0" y1="192.0" x2="776.0" y2="235.0" stroke="#b2b2b2" stroke-width="2.0" stroke-linecap="round"/><line x1="776.0" y1="190.0" x2="730.0" y2="236.3" stroke="#b2b2b2" stroke-width="2.0" stroke-linecap="round"/><line x1="730.0" y1="236.3" x2="776.0" y2="280.0" stroke="#b2b2b2" stroke-width="2.0" stroke-linecap="round"/><line x1="776.0" y1="235.0" x2="730.0" y2="280.7" stroke="#b2b2b2" stroke-width="2.0" stroke-linecap="round"/><line x1="730.0" y1="280.7" x2="776.0" y2="325.0" stroke="#b2b2b2" stroke-width="2.0" stroke-linecap="round"/><line x1="776.0" y1="280.0" x2="730.0" y2="325.0" stroke="#b2b2b2" stroke-width="2.0" stroke-linecap="round"/><line x1="685.0" y1="340.0" x2="610.0" y2="601.0" stroke="#a0a0a0" stroke-width="5" stroke-linecap="round"/><line x1="776.0" y1="340.0" x2="856.0" y2="607.0" stroke="#a0a0a0" stroke-width="5" stroke-linecap="round"/><line x1="684.0" y1="342.0" x2="809.0" y2="456.0" stroke="#a0a0a0" stroke-width="3.2" stroke-linecap="round"/><line x1="776.0" y1="342.0" x2="651.0" y2="456.0" stroke="#a0a0a0" stroke-width="3.2" stroke-linecap="round"/><line x1="686.0" y1="345.0" x2="728.0" y2="410.0" stroke="#b2b2b2" stroke-width="2.4" stroke-linecap="round"/><line x1="774.0" y1="345.0" x2="732.0" y2="410.0" stroke="#b2b2b2" stroke-width="2.4" stroke-linecap="round"/><line x1="684.0" y1="338.0" x2="776.0" y2="338.0" stroke="#a0a0a0" stroke-width="3" stroke-linecap="round"/><line x1="651.0" y1="456.0" x2="809.0" y2="456.0" stroke="#a6a6a6" stroke-width="6.5" stroke-linecap="round"/><rect x="725.5" y="158" width="8.5" height="298" fill="#b4b4b4"/><line x1="726.3" y1="158" x2="726.3" y2="456" stroke="#9a9a9a" stroke-width="1.5"/><path d="M722,456 L734,456 L733,614 L725,614 Z" fill="#a9a9a9"/><line x1="687.0" y1="462.0" x2="610.0" y2="601.0" stroke="#a0a0a0" stroke-width="3.2" stroke-linecap="round"/><line x1="692.0" y1="462.0" x2="724.0" y2="611.0" stroke="#a0a0a0" stroke-width="3.2" stroke-linecap="round"/><line x1="770.0" y1="462.0" x2="735.0" y2="594.0" stroke="#a0a0a0" stroke-width="3.2" stroke-linecap="round"/><line x1="771.0" y1="463.0" x2="856.0" y2="607.0" stroke="#a0a0a0" stroke-width="3.2" stroke-linecap="round"/><line x1="671.0" y1="492.0" x2="619.0" y2="585.0" stroke="#b2b2b2" stroke-width="2.2" stroke-linecap="round"/><line x1="698.0" y1="492.0" x2="722.0" y2="577.0" stroke="#b2b2b2" stroke-width="2.2" stroke-linecap="round"/><line x1="793.0" y1="492.0" x2="846.0" y2="590.0" stroke="#b2b2b2" stroke-width="2.2" stroke-linecap="round"/><line x1="653.0" y1="470.0" x2="672.0" y2="492.0" stroke="#a0a0a0" stroke-width="2.6" stroke-linecap="round"/><line x1="640.0" y1="510.0" x2="666.0" y2="498.0" stroke="#a0a0a0" stroke-width="2.6" stroke-linecap="round"/><line x1="633.0" y1="528.0" x2="648.0" y2="534.0" stroke="#a0a0a0" stroke-width="2.6" stroke-linecap="round"/><line x1="622.0" y1="570.0" x2="640.0" y2="558.0" stroke="#a0a0a0" stroke-width="2.6" stroke-linecap="round"/><line x1="696.0" y1="466.0" x2="720.0" y2="478.0" stroke="#b2b2b2" stroke-width="2.2" stroke-linecap="round"/><line x1="700.0" y1="495.0" x2="724.0" y2="486.0" stroke="#b2b2b2" stroke-width="2.2" stroke-linecap="round"/><line x1="703.0" y1="505.0" x2="726.0" y2="535.0" stroke="#b2b2b2" stroke-width="2.2" stroke-linecap="round"/><line x1="712.0" y1="540.0" x2="726.0" y2="548.0" stroke="#b2b2b2" stroke-width="2.2" stroke-linecap="round"/><line x1="760.0" y1="470.0" x2="735.0" y2="490.0" stroke="#b2b2b2" stroke-width="2.2" stroke-linecap="round"/><line x1="753.0" y1="500.0" x2="735.0" y2="512.0" stroke="#b2b2b2" stroke-width="2.2" stroke-linecap="round"/><line x1="747.0" y1="525.0" x2="735.0" y2="540.0" stroke="#b2b2b2" stroke-width="2.2" stroke-linecap="round"/><line x1="793.0" y1="465.0" x2="812.0" y2="492.0" stroke="#a0a0a0" stroke-width="2.6" stroke-linecap="round"/><line x1="790.0" y1="498.0" x2="824.0" y2="515.0" stroke="#a0a0a0" stroke-width="2.6" stroke-linecap="round"/><line x1="812.0" y1="530.0" x2="830.0" y2="520.0" stroke="#a0a0a0" stroke-width="2.6" stroke-linecap="round"/><line x1="834.0" y1="576.0" x2="846.0" y2="568.0" stroke="#a0a0a0" stroke-width="2.6" stroke-linecap="round"/><path d="M684,206 L630,222 L630,225 L684,223 Z" fill="#a6a6a6" fill-opacity="0.8"/><line x1="684.0" y1="206.0" x2="630.0" y2="222.0" stroke="#9c9c9c" stroke-width="2.6" stroke-linecap="round"/><line x1="684.0" y1="223.0" x2="630.0" y2="225.0" stroke="#9a9a9a" stroke-width="3.2" stroke-linecap="round"/><line x1="684.0" y1="206.0" x2="670.5" y2="223.5" stroke="#b2b2b2" stroke-width="1.6" stroke-linecap="round"/><line x1="684.0" y1="223.0" x2="670.5" y2="210.0" stroke="#b2b2b2" stroke-width="1.6" stroke-linecap="round"/><line x1="670.5" y1="210.0" x2="657.0" y2="224.0" stroke="#b2b2b2" stroke-width="1.6" stroke-linecap="round"/><line x1="670.5" y1="223.5" x2="657.0" y2="214.0" stroke="#b2b2b2" stroke-width="1.6" stroke-linecap="round"/><line x1="657.0" y1="214.0" x2="643.5" y2="224.5" stroke="#b2b2b2" stroke-width="1.6" stroke-linecap="round"/><line x1="657.0" y1="224.0" x2="643.5" y2="218.0" stroke="#b2b2b2" stroke-width="1.6" stroke-linecap="round"/><line x1="643.5" y1="218.0" x2="630.0" y2="225.0" stroke="#b2b2b2" stroke-width="1.6" stroke-linecap="round"/><line x1="643.5" y1="224.5" x2="630.0" y2="222.0" stroke="#b2b2b2" stroke-width="1.6" stroke-linecap="round"/><path d="M684,250 L594.5,263.7 L594.5,266.5 L684,271.5 Z" fill="#a6a6a6" fill-opacity="0.8"/><line x1="684.0" y1="250.0" x2="594.5" y2="263.7" stroke="#9c9c9c" stroke-width="2.6" stroke-linecap="round"/><line x1="684.0" y1="271.5" x2="594.5" y2="266.5" stroke="#9a9a9a" stroke-width="3.2" stroke-linecap="round"/><line x1="684.0" y1="250.0" x2="661.6" y2="270.2" stroke="#b2b2b2" stroke-width="1.6" stroke-linecap="round"/><line x1="684.0" y1="271.5" x2="661.6" y2="253.4" stroke="#b2b2b2" stroke-width="1.6" stroke-linecap="round"/><line x1="661.6" y1="253.4" x2="639.2" y2="269.0" stroke="#b2b2b2" stroke-width="1.6" stroke-linecap="round"/><line x1="661.6" y1="270.2" x2="639.2" y2="256.9" stroke="#b2b2b2" stroke-width="1.6" stroke-linecap="round"/><line x1="639.2" y1="256.9" x2="616.9" y2="267.8" stroke="#b2b2b2" stroke-width="1.6" stroke-linecap="round"/><line x1="639.2" y1="269.0" x2="616.9" y2="260.3" stroke="#b2b2b2" stroke-width="1.6" stroke-linecap="round"/><line x1="616.9" y1="260.3" x2="594.5" y2="266.5" stroke="#b2b2b2" stroke-width="1.6" stroke-linecap="round"/><line x1="616.9" y1="267.8" x2="594.5" y2="263.7" stroke="#b2b2b2" stroke-width="1.6" stroke-linecap="round"/><path d="M776,226 L812,228 L812,232 L776,242 Z" fill="#a6a6a6" fill-opacity="0.8"/><line x1="776.0" y1="226.0" x2="812.0" y2="228.0" stroke="#9c9c9c" stroke-width="2.6" stroke-linecap="round"/><line x1="776.0" y1="242.0" x2="812.0" y2="232.0" stroke="#9a9a9a" stroke-width="3.2" stroke-linecap="round"/><line x1="776.0" y1="226.0" x2="785.0" y2="239.5" stroke="#b2b2b2" stroke-width="1.6" stroke-linecap="round"/><line x1="776.0" y1="242.0" x2="785.0" y2="226.5" stroke="#b2b2b2" stroke-width="1.6" stroke-linecap="round"/><line x1="785.0" y1="226.5" x2="794.0" y2="237.0" stroke="#b2b2b2" stroke-width="1.6" stroke-linecap="round"/><line x1="785.0" y1="239.5" x2="794.0" y2="227.0" stroke="#b2b2b2" stroke-width="1.6" stroke-linecap="round"/><line x1="794.0" y1="227.0" x2="803.0" y2="234.5" stroke="#b2b2b2" stroke-width="1.6" stroke-linecap="round"/><line x1="794.0" y1="237.0" x2="803.0" y2="227.5" stroke="#b2b2b2" stroke-width="1.6" stroke-linecap="round"/><line x1="803.0" y1="227.5" x2="812.0" y2="232.0" stroke="#b2b2b2" stroke-width="1.6" stroke-linecap="round"/><line x1="803.0" y1="234.5" x2="812.0" y2="228.0" stroke="#b2b2b2" stroke-width="1.6" stroke-linecap="round"/><path d="M776,270 L838,279 L838,283 L776,286 Z" fill="#a6a6a6" fill-opacity="0.8"/><line x1="776.0" y1="270.0" x2="838.0" y2="279.0" stroke="#9c9c9c" stroke-width="2.6" stroke-linecap="round"/><line x1="776.0" y1="286.0" x2="838.0" y2="283.0" stroke="#9a9a9a" stroke-width="3.2" stroke-linecap="round"/><line x1="776.0" y1="270.0" x2="791.5" y2="285.2" stroke="#b2b2b2" stroke-width="1.6" stroke-linecap="round"/><line x1="776.0" y1="286.0" x2="791.5" y2="272.2" stroke="#b2b2b2" stroke-width="1.6" stroke-linecap="round"/><line x1="791.5" y1="272.2" x2="807.0" y2="284.5" stroke="#b2b2b2" stroke-width="1.6" stroke-linecap="round"/><line x1="791.5" y1="285.2" x2="807.0" y2="274.5" stroke="#b2b2b2" stroke-width="1.6" stroke-linecap="round"/><line x1="807.0" y1="274.5" x2="822.5" y2="283.8" stroke="#b2b2b2" stroke-width="1.6" stroke-linecap="round"/><line x1="807.0" y1="284.5" x2="822.5" y2="276.8" stroke="#b2b2b2" stroke-width="1.6" stroke-linecap="round"/><line x1="822.5" y1="276.8" x2="838.0" y2="283.0" stroke="#b2b2b2" stroke-width="1.6" stroke-linecap="round"/><line x1="822.5" y1="283.8" x2="838.0" y2="279.0" stroke="#b2b2b2" stroke-width="1.6" stroke-linecap="round"/><line x1="684.0" y1="208.0" x2="776.0" y2="224.0" stroke="#a0a0a0" stroke-width="2.4" stroke-linecap="round"/><line x1="684.0" y1="224.0" x2="776.0" y2="241.0" stroke="#a0a0a0" stroke-width="3" stroke-linecap="round"/><line x1="684.0" y1="248.0" x2="776.0" y2="266.0" stroke="#a0a0a0" stroke-width="2.4" stroke-linecap="round"/><line x1="684.0" y1="272.0" x2="776.0" y2="287.0" stroke="#a0a0a0" stroke-width="3" stroke-linecap="round"/><line x1="776.0" y1="195.0" x2="836.0" y2="267.0" stroke="#ababab" stroke-width="1.8" stroke-linecap="round"/></g><g><line x1="608.4" y1="232.6" x2="629.0" y2="225.7" stroke="#2a2a2a" stroke-width="4.2" stroke-linecap="round"/><line x1="689.5" y1="210.0" x2="713.7" y2="206.7" stroke="#2a2a2a" stroke-width="4.2" stroke-linecap="round"/><line x1="572.0" y1="275.8" x2="592.8" y2="268.9" stroke="#2a2a2a" stroke-width="4.2" stroke-linecap="round"/><line x1="651.5" y1="255.0" x2="675.7" y2="251.6" stroke="#2a2a2a" stroke-width="4.2" stroke-linecap="round"/><line x1="838.0" y1="231.0" x2="864.0" y2="227.4" stroke="#2a2a2a" stroke-width="4.2" stroke-linecap="round"/><line x1="760.0" y1="248.0" x2="770.7" y2="244.7" stroke="#2a2a2a" stroke-width="4.2" stroke-linecap="round"/><line x1="869.0" y1="279.0" x2="895.0" y2="277.5" stroke="#2a2a2a" stroke-width="4.2" stroke-linecap="round"/><line x1="781.0" y1="296.5" x2="801.8" y2="291.3" stroke="#2a2a2a" stroke-width="4.2" stroke-linecap="round"/><line x1="190.0" y1="348.3" x2="194.0" y2="346.8" stroke="#3c3c3c" stroke-width="3.2" stroke-opacity="0.85" stroke-linecap="round"/><line x1="215.0" y1="340.5" x2="221.4" y2="340.5" stroke="#3c3c3c" stroke-width="3.2" stroke-opacity="0.85" stroke-linecap="round"/><line x1="315.0" y1="346.0" x2="323.0" y2="346.0" stroke="#3c3c3c" stroke-width="3.2" stroke-opacity="0.85" stroke-linecap="round"/><line x1="289.0" y1="352.3" x2="293.0" y2="350.7" stroke="#3c3c3c" stroke-width="3.2" stroke-opacity="0.85" stroke-linecap="round"/><line x1="166.3" y1="372.0" x2="171.8" y2="370.0" stroke="#3c3c3c" stroke-width="3.2" stroke-opacity="0.85" stroke-linecap="round"/><line x1="308.7" y1="379.0" x2="313.5" y2="377.5" stroke="#3c3c3c" stroke-width="3.2" stroke-opacity="0.85" stroke-linecap="round"/><line x1="337.0" y1="373.5" x2="345.0" y2="373.5" stroke="#3c3c3c" stroke-width="3.2" stroke-opacity="0.85" stroke-linecap="round"/><line x1="178.0" y1="366.0" x2="183.0" y2="366.0" stroke="#3c3c3c" stroke-width="3.2" stroke-opacity="0.85" stroke-linecap="round"/><line x1="10.0" y1="414.8" x2="12.5" y2="414.5" stroke="#555" stroke-width="2.4" stroke-opacity="0.7" stroke-linecap="round"/><line x1="31.1" y1="392.4" x2="33.7" y2="391.4" stroke="#4a4a4a" stroke-width="2.4" stroke-opacity="0.75" stroke-linecap="round"/><line x1="47.4" y1="387.0" x2="51.5" y2="387.0" stroke="#4a4a4a" stroke-width="2.4" stroke-opacity="0.75" stroke-linecap="round"/><line x1="112.4" y1="390.8" x2="117.6" y2="390.8" stroke="#4a4a4a" stroke-width="2.4" stroke-opacity="0.75" stroke-linecap="round"/><line x1="95.5" y1="395.2" x2="98.1" y2="394.1" stroke="#4a4a4a" stroke-width="2.4" stroke-opacity="0.75" stroke-linecap="round"/><line x1="15.7" y1="408.8" x2="19.3" y2="407.4" stroke="#4a4a4a" stroke-width="2.4" stroke-opacity="0.75" stroke-linecap="round"/><line x1="108.3" y1="413.7" x2="111.4" y2="412.6" stroke="#4a4a4a" stroke-width="2.4" stroke-opacity="0.75" stroke-linecap="round"/><line x1="126.7" y1="409.9" x2="131.9" y2="409.9" stroke="#4a4a4a" stroke-width="2.4" stroke-opacity="0.75" stroke-linecap="round"/><line x1="23.3" y1="404.7" x2="26.6" y2="404.7" stroke="#4a4a4a" stroke-width="2.4" stroke-opacity="0.75" stroke-linecap="round"/></g><g><path d="M358,512 Q358,507 364,507 L369,507 Q378,507 378,518 L377.5,560 L358,560 Z" fill="#a9d1d5" stroke="#3a4a55" stroke-width="1.2"/><path d="M358.5,560 L377.5,560 L376,610 L356,610 Q354,607 360.5,605 Z" fill="#3e5f7f" stroke="#2c3e50" stroke-width="1"/><circle cx="367.6" cy="487.9" r="15.5" fill="#fff" stroke="#3a434c" stroke-width="1.5"/><path d="M347,484 Q351,481 352,478 Q355,464 369,463 Q383,463 385,478 L387,486 Z" fill="#ef7b6c" stroke="#3d3d4a" stroke-width="1.2" stroke-linejoin="round"/><path d="M358.5,476.5 Q362,469.5 369,468.5 Q378,468 382,474" fill="none" stroke="#3d3d4a" stroke-width="5" stroke-linecap="round"/><path d="M358.5,476.5 Q362,469.5 369,468.5 Q378,468 382,474" fill="none" stroke="#e9a01f" stroke-width="3" stroke-linecap="round"/><path d="M360,466 Q370,461 381,467" fill="none" stroke="#5a5a6a" stroke-width="2" stroke-opacity="0.6"/><line x1="346.5" y1="483.5" x2="388" y2="487" stroke="#3d3d4a" stroke-width="2.2" stroke-linecap="round"/><path d="M370,519.5 Q369,534 356,535.3 L341.5,535" fill="none" stroke="#8a6a3a" stroke-width="8.2" stroke-linecap="round"/><path d="M370,519.5 Q369,534 356,535.3 L341.5,535" fill="none" stroke="#f5a020" stroke-width="7" stroke-linecap="round"/></g><g><circle cx="42" cy="39.4" r="10.8" fill="#e55a00" stroke="#3a1c08" stroke-width="1.2"/><circle cx="74" cy="358" r="5.2" fill="#e55a00" stroke="#3a1c08" stroke-width="0.9"/><circle cx="39" cy="387" r="5.2" fill="#e55a00" stroke="#3a1c08" stroke-width="0.9"/><circle cx="108.5" cy="386.4" r="5.2" fill="#e55a00" stroke="#3a1c08" stroke-width="0.9"/><circle cx="20" cy="403.4" r="5.2" fill="#e55a00" stroke="#3a1c08" stroke-width="0.9"/><circle cx="124.2" cy="406.8" r="5.2" fill="#e55a00" stroke="#3a1c08" stroke-width="0.9"/><circle cx="255.5" cy="294" r="10.4" fill="#e55a00" stroke="#3a1c08" stroke-width="1.2"/><circle cx="204.4" cy="338.6" r="10.4" fill="#e55a00" stroke="#3a1c08" stroke-width="1.2"/><circle cx="303.6" cy="345.8" r="10.4" fill="#e55a00" stroke="#3a1c08" stroke-width="1.2"/><circle cx="183.9" cy="362.6" r="10.4" fill="#e55a00" stroke="#3a1c08" stroke-width="1.2"/><circle cx="323.7" cy="372.8" r="10.4" fill="#e55a00" stroke="#3a1c08" stroke-width="1.2"/><circle cx="732.7" cy="148" r="16.4" fill="#e55a00" stroke="#3a1c08" stroke-width="1.4"/><circle cx="665.4" cy="213" r="16.4" fill="#e55a00" stroke="#3a1c08" stroke-width="1.4"/><circle cx="813.9" cy="229.2" r="16.4" fill="#e55a00" stroke="#3a1c08" stroke-width="1.4"/><circle cx="627.4" cy="254.4" r="16.4" fill="#e55a00" stroke="#3a1c08" stroke-width="1.4"/><circle cx="841.5" cy="281" r="16.4" fill="#e55a00" stroke="#3a1c08" stroke-width="1.4"/></g><g><line x1="74.0" y1="358.0" x2="83.5" y2="453.8" stroke="#2b2b2b" stroke-width="1.1" stroke-linecap="butt"/><line x1="39.0" y1="387.0" x2="83.5" y2="453.8" stroke="#2b2b2b" stroke-width="1.1" stroke-linecap="butt"/><line x1="108.5" y1="386.4" x2="83.5" y2="453.8" stroke="#2b2b2b" stroke-width="1.1" stroke-linecap="butt"/><line x1="20.0" y1="403.4" x2="83.5" y2="453.8" stroke="#2b2b2b" stroke-width="1.1" stroke-linecap="butt"/><line x1="124.2" y1="406.8" x2="83.5" y2="453.8" stroke="#2b2b2b" stroke-width="1.1" stroke-linecap="butt"/><line x1="255.5" y1="294.0" x2="271.0" y2="450.0" stroke="#2b2b2b" stroke-width="1.7" stroke-linecap="butt"/><line x1="204.4" y1="338.6" x2="271.0" y2="450.0" stroke="#2b2b2b" stroke-width="1.1" stroke-linecap="butt"/><line x1="303.6" y1="345.8" x2="271.0" y2="450.0" stroke="#2b2b2b" stroke-width="1.1" stroke-linecap="butt"/><line x1="183.9" y1="362.6" x2="271.0" y2="450.0" stroke="#2b2b2b" stroke-width="1.1" stroke-linecap="butt"/><line x1="323.7" y1="372.8" x2="271.0" y2="450.0" stroke="#2b2b2b" stroke-width="1.1" stroke-linecap="butt"/><line x1="732.7" y1="148.0" x2="746.8" y2="417.1" stroke="#2b2b2b" stroke-width="1.1" stroke-linecap="butt"/><line x1="665.4" y1="213.0" x2="746.8" y2="417.1" stroke="#2b2b2b" stroke-width="1.1" stroke-linecap="butt"/><line x1="813.9" y1="229.2" x2="746.8" y2="417.1" stroke="#2b2b2b" stroke-width="1.1" stroke-linecap="butt"/><line x1="627.4" y1="254.4" x2="746.8" y2="417.1" stroke="#2b2b2b" stroke-width="1.1" stroke-linecap="butt"/><line x1="841.5" y1="281.0" x2="746.8" y2="417.1" stroke="#2b2b2b" stroke-width="1.1" stroke-linecap="butt"/><path d="M99.6,455.4 C189.9,355.9 293.4,323.9 414.7,390.3" fill="none" stroke="#2b2b2b" stroke-width="1.1"/><path d="M101.8,458.7 C196.8,402.3 273.5,380.6 382.0,389.9" fill="none" stroke="#2b2b2b" stroke-width="1.1"/><path d="M107.3,459.8 C144.7,454.8 220.8,442.5 258.8,458.6" fill="none" stroke="#2b2b2b" stroke-width="1.1"/><path d="M286.3,448.5 C306.5,416.6 342.5,386.7 384.9,394" fill="none" stroke="#2b2b2b" stroke-width="1.1"/><path d="M286.3,453.2 Q334,421 418,391" fill="none" stroke="#2b2b2b" stroke-width="1.1"/><path d="M289,455.5 Q377.6,421.5 453.6,394.4" fill="none" stroke="#2b2b2b" stroke-width="1.1"/><line x1="289.0" y1="464.0" x2="324.5" y2="508.2" stroke="#2b2b2b" stroke-width="1.1" stroke-linecap="butt"/><line x1="779.4" y1="422.2" x2="1032.6" y2="136.4" stroke="#2b2b2b" stroke-width="1.0" stroke-linecap="butt"/><line x1="1042.6" y1="141.5" x2="1024.5" y2="530.0" stroke="#2b2b2b" stroke-width="1.0" stroke-linecap="butt"/></g><g><path d="M28.2,69.4 L21.7,73.4 L21.7,91.8 L46.5,91.8 L53,87.8 L28.2,87.8 Z" fill="#08eaea" stroke="#0a0a0a" stroke-width="1" stroke-linejoin="round"/><line x1="28.2" y1="87.8" x2="21.7" y2="91.8" stroke="#0a0a0a" stroke-width="1"/><rect x="28.2" y="69.4" width="24.8" height="18.39999999999999" fill="#00ffff" stroke="#0a0a0a" stroke-width="1"/><path d="M72,454.3 L65.5,458.3 L65.5,476 L88.5,476 L95,472 L72,472 Z" fill="#08eaea" stroke="#0a0a0a" stroke-width="1" stroke-linejoin="round"/><line x1="72" y1="472" x2="65.5" y2="476" stroke="#0a0a0a" stroke-width="1"/><rect x="72" y="454.3" width="23" height="17.69999999999999" fill="#00ffff" stroke="#0a0a0a" stroke-width="1"/><path d="M259.3,451.1 L257.0,453.1 L257.0,471 L280.59999999999997,471 L282.9,469 L259.3,469 Z" fill="#08eaea" stroke="#0a0a0a" stroke-width="1" stroke-linejoin="round"/><line x1="259.3" y1="469" x2="257.0" y2="471" stroke="#0a0a0a" stroke-width="1"/><rect x="259.3" y="451.1" width="23.599999999999966" height="17.899999999999977" fill="#00ffff" stroke="#0a0a0a" stroke-width="1"/><path d="M724.3,417.5 L718.8,421.2 L718.8,455.09999999999997 L764.0,455.09999999999997 L769.5,451.4 L724.3,451.4 Z" fill="#08eaea" stroke="#0a0a0a" stroke-width="1" stroke-linejoin="round"/><line x1="724.3" y1="451.4" x2="718.8" y2="455.09999999999997" stroke="#0a0a0a" stroke-width="1"/><rect x="724.3" y="417.5" width="45.200000000000045" height="33.89999999999998" fill="#00ffff" stroke="#0a0a0a" stroke-width="1"/><circle cx="386.2" cy="390.4" r="4.3" fill="#000"/><circle cx="419.7" cy="390.4" r="4.3" fill="#000"/><circle cx="453.5" cy="390.4" r="4.3" fill="#000"/><circle cx="487.6" cy="390.4" r="4.3" fill="#000"/><circle cx="521.4" cy="390.4" r="4.3" fill="#000"/><circle cx="555.4" cy="390.4" r="4.3" fill="#000"/><circle cx="589.1" cy="390.4" r="4.3" fill="#000"/><path d="M20.4,177.3 L24.299999999999997,168.60000000000002 L64.8,168.60000000000002 L64.8,199.20000000000002 L60.9,207.9 L60.9,177.3 Z" fill="#cddb9b" stroke="#2a2a22" stroke-width="1.3" stroke-linejoin="round"/><line x1="60.9" y1="177.3" x2="64.8" y2="168.60000000000002" stroke="#2a2a22" stroke-width="1.3"/><rect x="20.4" y="177.3" width="40.5" height="30.599999999999994" fill="#d0dea0" stroke="#2a2a22" stroke-width="1.3"/><path d="M1003.2,546.7 L1007.5,536.7 L1048.1,536.7 L1048.1,568 L1043.8,578 L1043.8,546.7 Z" fill="#cddb9b" stroke="#2a2a22" stroke-width="1.3" stroke-linejoin="round"/><line x1="1043.8" y1="546.7" x2="1048.1" y2="536.7" stroke="#2a2a22" stroke-width="1.3"/><rect x="1003.2" y="546.7" width="40.59999999999991" height="31.299999999999955" fill="#d0dea0" stroke="#2a2a22" stroke-width="1.3"/><path d="M36.7,106.6 L33.0,108.6 L33.0,149 L41.5,149 L45.2,147 L36.7,147 Z" fill="#5f5740" stroke="#222" stroke-width="1" stroke-linejoin="round"/><rect x="36.7" y="106.6" width="8.5" height="40.400000000000006" fill="#7b7257" stroke="#222" stroke-width="1"/><path d="M333.5,497 L330.0,499 L330.0,539 L337.5,539 L341,537 L333.5,537 Z" fill="#5f5740" stroke="#222" stroke-width="1" stroke-linejoin="round"/><rect x="333.5" y="497" width="7.5" height="40" fill="#7b7257" stroke="#222" stroke-width="1"/></g><g><path d="M83.5,453.8 L77.0,441.9 L87.5,440.8 Z" fill="#fff" stroke="#333" stroke-width="0.9"/><path d="M83.5,453.8 L72.2,446.3 L80.9,440.5 Z" fill="#fff" stroke="#333" stroke-width="0.9"/><path d="M83.5,453.8 L82.9,440.3 L92.8,443.9 Z" fill="#fff" stroke="#333" stroke-width="0.9"/><path d="M83.5,453.8 L70.4,450.1 L77.0,441.9 Z" fill="#fff" stroke="#333" stroke-width="0.9"/><path d="M83.5,453.8 L87.7,440.9 L95.7,447.8 Z" fill="#fff" stroke="#333" stroke-width="0.9"/><path d="M271.0,450.0 L263.7,437.7 L275.7,436.5 Z" fill="#fff" stroke="#333" stroke-width="0.9"/><path d="M271.0,450.0 L259.2,441.9 L269.5,435.8 Z" fill="#fff" stroke="#333" stroke-width="0.9"/><path d="M271.0,450.0 L269.2,435.8 L280.6,439.4 Z" fill="#fff" stroke="#333" stroke-width="0.9"/><path d="M271.0,450.0 L257.6,445.0 L266.1,436.6 Z" fill="#fff" stroke="#333" stroke-width="0.9"/><path d="M271.0,450.0 L273.4,435.9 L283.3,442.6 Z" fill="#fff" stroke="#333" stroke-width="0.9"/><path d="M746.8,417.1 L737.4,399.6 L754.3,398.7 Z" fill="#fff" stroke="#333" stroke-width="0.9"/><path d="M746.8,417.1 L732.2,403.5 L748.0,397.2 Z" fill="#fff" stroke="#333" stroke-width="0.9"/><path d="M746.8,417.1 L744.8,397.3 L760.9,403.0 Z" fill="#fff" stroke="#333" stroke-width="0.9"/><path d="M746.8,417.1 L729.3,407.6 L743.0,397.6 Z" fill="#fff" stroke="#333" stroke-width="0.9"/><path d="M746.8,417.1 L750.1,397.5 L764.1,407.2 Z" fill="#fff" stroke="#333" stroke-width="0.9"/><path d="M414.7,390.3 L404.2,389.5 L408.7,381.7 Z" fill="#fff" stroke="#333" stroke-width="0.9"/><path d="M382.0,389.9 L372.2,393.5 L372.8,385.1 Z" fill="#fff" stroke="#333" stroke-width="0.9"/><path d="M258.8,458.6 L245.3,459.9 L250.0,448.3 Z" fill="#fff" stroke="#333" stroke-width="0.9"/><path d="M384.9,394.0 L377.6,396.8 L378.3,389.8 Z" fill="#fff" stroke="#333" stroke-width="0.9"/><path d="M418.0,391.0 L411.9,397.4 L409.2,390.4 Z" fill="#fff" stroke="#333" stroke-width="0.9"/><path d="M453.6,394.4 L446.6,401.5 L443.7,393.5 Z" fill="#fff" stroke="#333" stroke-width="0.9"/><path d="M282.9,460 L294.6,465.2 L286.2,471.8 Z" fill="#fff" stroke="#333" stroke-width="0.9"/><path d="M320.7,511.3 L329.8,504.8 L332.6,515.7 Z" fill="#fff" stroke="#333" stroke-width="0.9"/><path d="M770,432.8 L773.1,417.5 L784.9,426.9 Z" fill="#fff" stroke="#333" stroke-width="0.9"/><path d="M1042.6,124.8 L1027.6,131 L1035.7,137.6 Z" fill="#fff" stroke="#333" stroke-width="1"/><path d="M1042.6,124.8 L1034.5,141.4 L1050.8,142 Z" fill="#fff" stroke="#333" stroke-width="1"/><path d="M1023.6,546.5 L1015.4,529.2 L1033.3,529.2 Z" fill="#fff" stroke="#333" stroke-width="1"/></g><g><line x1="63.5" y1="38.5" x2="109.0" y2="38.5" stroke="#8a8a8a" stroke-width="1.4" stroke-linecap="butt"/><line x1="63.5" y1="76.5" x2="109.0" y2="76.5" stroke="#8a8a8a" stroke-width="1.4" stroke-linecap="butt"/><line x1="64.0" y1="125.0" x2="109.0" y2="125.0" stroke="#8a8a8a" stroke-width="1.4" stroke-linecap="butt"/><line x1="62.0" y1="173.9" x2="109.0" y2="173.9" stroke="#8a8a8a" stroke-width="1.4" stroke-linecap="butt"/></g><path d="M1004,61.6 C1007,45 1019,38.5 1031,38.8 C1042,39.2 1050,45 1054.2,52.2 C1058,47 1063.5,45.5 1068.3,45.9 C1074,46.5 1078.5,52 1080.9,58.5 C1082.5,55 1085,54 1087.3,54.4 C1090.5,55.2 1092.5,59 1092.6,63.2 C1101,62.5 1109.5,70 1109.3,81 C1109,86.5 1104,90 1099.7,92.2 C1100.5,97.5 1098,102.3 1093.4,102.4 C1090,102.6 1088,102 1086.4,101.6 C1084,106 1079,107.5 1074.6,107.1 C1070,106.8 1066.5,105.2 1064.4,104 C1056,107 1048,108.2 1041.6,107.9 C1028,107.4 1016,102 1006.3,96.1 C1000,98.5 990,97.5 985.5,91.5 C980.5,85 980.5,75 984,70 C988,64.5 996,61.5 1004,61.6 Z" fill="#fff" stroke="#1c1c1c" stroke-width="2"/><path d="M975,488.6 L1079,398.5 L1182.8,489.1 M987.3,481 L987.3,606 L1170.5,606 L1170.5,481" fill="none" stroke="#000" stroke-width="5.4" stroke-linecap="round" stroke-linejoin="round"/></svg>
<div class="t lg" style="left:121px;top:32px">智能感知终端设备</div>
<div class="t lg" style="left:121px;top:69px">地面无线节点</div>
<div class="t lg" style="left:121px;top:119px">手持设备</div>
<div class="t lg" style="left:122px;top:166px">远程监控设备</div>
<div class="t v" style="left:1054.3px;top:200.5px">网<br>络<br>传<br>输</div>
<div class="t" style="left:890.5px;top:299.5px;font-size:21.5px">4G</div>
</body></html>
